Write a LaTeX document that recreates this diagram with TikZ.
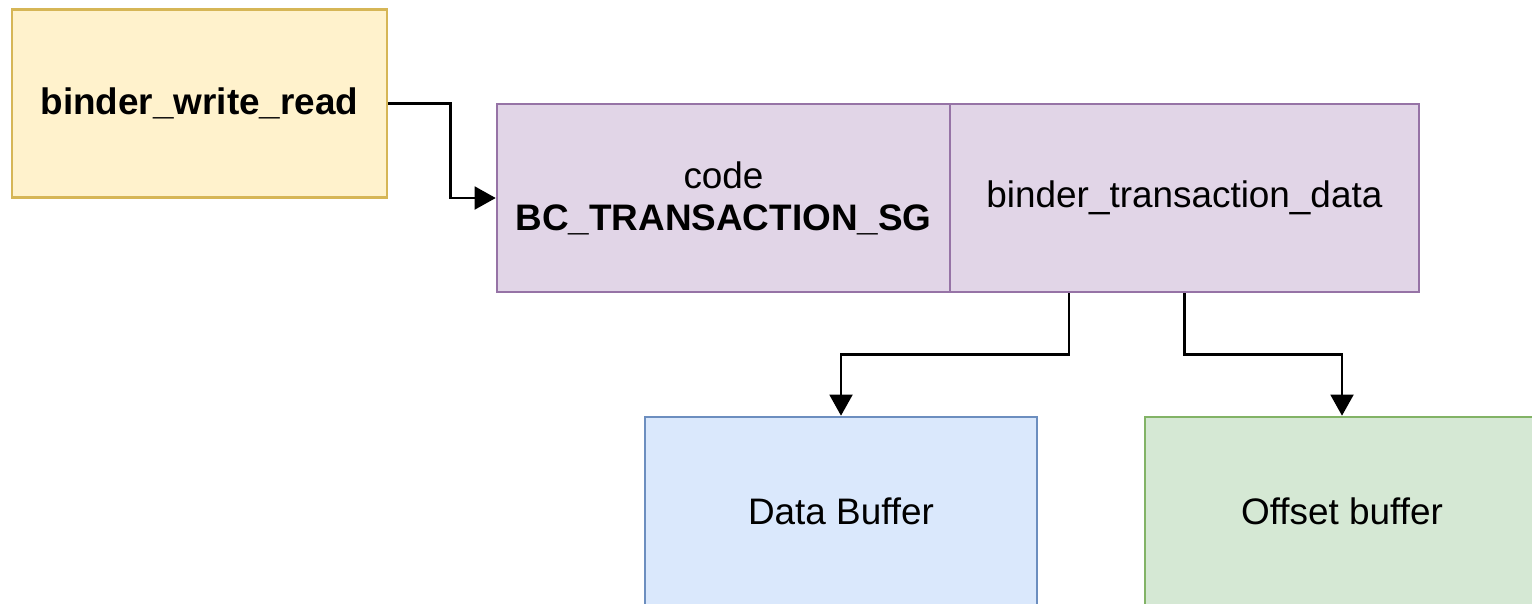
\documentclass[tikz,border=0pt]{standalone}
\usepackage{fontspec}
\setmainfont{Liberation Sans}
\usetikzlibrary{positioning, arrows.meta}
\definecolor{ylFill}{HTML}{FFF2CC}
\definecolor{ylLine}{HTML}{D6B656}
\definecolor{puFill}{HTML}{E1D5E7}
\definecolor{puLine}{HTML}{9673A6}
\definecolor{blFill}{HTML}{DAE8FC}
\definecolor{blLine}{HTML}{6C8EBF}
\definecolor{grFill}{HTML}{D5E8D4}
\definecolor{grLine}{HTML}{82B366}
\tikzset{
  box/.style={draw, line width=1.5pt, minimum height=3.76cm, inner sep=0pt,
    align=center, font=\fontsize{21}{24}\selectfont},
  arr/.style={-{Triangle[length=12pt, width=13pt]}, line width=1.4pt, black}
}

\begin{document}
\begin{tikzpicture}[x=0.02cm, y=-0.02cm]
  \clip (0,0) rectangle (1532,603);
  \fill[white] (0,0) rectangle (1532,603);
  \node[box, draw=ylLine, fill=ylFill, minimum width=7.5cm] (bwr) at (199.5,103.5)
    {\textbf{binder\_write\_read}};
  \node[box, draw=puLine, fill=puFill, minimum width=9.06cm] (code) at (723.5,198)
    {code\\\textbf{BC\_TRANSACTION\_SG}};
  \node[box, draw=puLine, fill=puFill, minimum width=9.38cm, right=-1.5pt of code] (td)
    {binder\_transaction\_data};
  \node[box, draw=blLine, fill=blFill, minimum width=7.84cm] (buf) at (841,511)
    {Data Buffer};
  \node[box, draw=grLine, fill=grFill, minimum width=7.88cm] (off) at (1342,511)
    {Offset buffer};
  \draw[arr] (bwr.east) -- ++(62,0) |- (code.west);
  \draw[arr] ([xshift=-2.31cm]td.south) -- ++(0,61) -| (buf.north);
  \draw[arr] (td.south) -- ++(0,61) -| (off.north);
\end{tikzpicture}
\end{document}
